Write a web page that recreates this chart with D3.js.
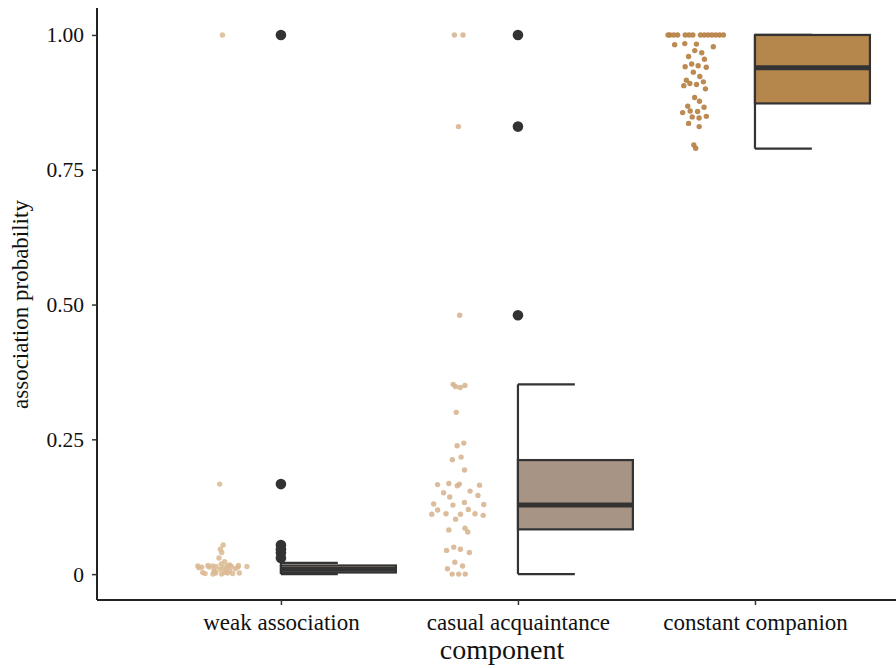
<!DOCTYPE html>
<html>
<head>
<meta charset="utf-8">
<script src="https://cdn.jsdelivr.net/npm/d3@7"></script>
<style>
  body { margin: 0; background: #fff; }
  svg { display: block; font-family: "Liberation Serif", "DejaVu Serif", serif; }
</style>
</head>
<body>
<div id="chart"></div>
<script>
// Data
const categories = ["weak association", "casual acquaintance", "constant companion"];

const weakValues = [1.0, 0.167, 0.054, 0.046, 0.040, 0.030,
  0.023, 0.019, 0.017,
  0.016, 0.016, 0.015, 0.015, 0.015, 0.014, 0.014, 0.014, 0.013, 0.013, 0.013, 0.012, 0.012,
  0.010, 0.009, 0.008, 0.007, 0.006,
  0.004, 0.003, 0.003, 0.002, 0.002, 0.002, 0.001, 0.001, 0.000, 0.000];

const casualValues = [1.0, 1.0, 0.83, 0.48, 0.352, 0.35, 0.348, 0.346, 0.30, 0.243, 0.238,
  0.217, 0.212, 0.193, 0.168, 0.167, 0.166, 0.165, 0.164, 0.154, 0.151, 0.146, 0.143,
  0.133, 0.13, 0.129, 0.128, 0.12, 0.119, 0.112, 0.112, 0.111, 0.111, 0.109, 0.102,
  0.085, 0.082, 0.078, 0.05, 0.046, 0.044, 0.040, 0.022, 0.015, 0.010, 0, 0, 0];

const constantValues = [1, 1, 1, 1, 1, 1, 1, 1, 1, 1, 1, 1, 1, 1,
  0.984, 0.983, 0.982, 0.978, 0.971, 0.967, 0.96, 0.955, 0.946, 0.943, 0.941, 0.94,
  0.931, 0.923, 0.916, 0.913, 0.91, 0.908, 0.906, 0.90, 0.884, 0.877, 0.868, 0.866,
  0.859, 0.858, 0.856, 0.849, 0.848, 0.846, 0.836, 0.83, 0.796, 0.79];

// Box statistics: [lower whisker, q1, median, q3, upper whisker]
const boxStats = [
  [0, 0.003, 0.009, 0.016, 0.021],
  [0, 0.083, 0.128, 0.2115, 0.352],
  [0.789, 0.873, 0.939, 1.0, 1.0]
];
const outliers = [
  [1.0, 0.167, 0.054, 0.046, 0.040, 0.030],
  [1.0, 0.83, 0.48],
  []
];

const yTicks = [0, 0.25, 0.5, 0.75, 1];
const yTickLabels = ["0", "0.25", "0.50", "0.75", "1.00"];

const dotColors = ["#dbb891", "#d5b28c", "#b8844a"];
const boxColors = ["#d8bb98", "#a89484", "#b5874d"];

const width = 896;
const height = 668;
const margin = { top: 8, right: 0, bottom: 68, left: 97 };
const innerWidth = width - margin.left - margin.right;
const innerHeight = height - margin.top - margin.bottom;

/*******************************/
/*    Append the containers    */
/*******************************/
const svg = d3.select("#chart")
  .append("svg")
    .attr("width", width)
    .attr("height", height)
    .attr("viewBox", `0, 0, ${width}, ${height}`);

const innerChart = svg
  .append("g")
    .attr("transform", `translate(${margin.left}, ${margin.top})`);

/****************************/
/*    Declare the scales    */
/****************************/
const xScale = d3.scaleLinear()
  .domain([0.224, 3.595])
  .range([0, innerWidth]);

const yScale = d3.scaleLinear()
  .domain([-0.048, 1.05])
  .range([innerHeight, 0]);

const unit = xScale(2) - xScale(1);

/***************************/
/*     Append the axes     */
/***************************/
const bottomAxis = innerChart
  .append("g")
    .attr("transform", `translate(0, ${innerHeight})`)
    .call(d3.axisBottom(xScale)
      .tickValues([1, 2, 3])
      .tickFormat((d, i) => categories[i])
      .tickSize(5)
      .tickPadding(9)
      .tickSizeOuter(0));

const leftAxis = innerChart
  .append("g")
    .call(d3.axisLeft(yScale)
      .tickValues(yTicks)
      .tickFormat((d, i) => yTickLabels[i])
      .tickSize(5)
      .tickPadding(8)
      .tickSizeOuter(0));

[bottomAxis, leftAxis].forEach(ax => {
  ax.select(".domain").attr("stroke", "#222").attr("stroke-width", 2);
  ax.selectAll(".tick line").attr("stroke", "#333").attr("stroke-width", 1.5);
  ax.selectAll(".tick text")
    .attr("fill", "#111")
    .style("font-family", "'Liberation Serif', serif");
});
bottomAxis.selectAll(".tick text")
  .attr("y", 30)
  .attr("dy", 0)
  .style("font-size", "23px");
leftAxis.selectAll(".tick text").style("font-size", "21.5px");

// extend axis lines to the panel edges
leftAxis.select(".domain").attr("d", `M0,0V${innerHeight}`);
bottomAxis.select(".domain").attr("d", `M0,0H${innerWidth}`);

// Axis titles
svg.append("text")
  .attr("x", 502)
  .attr("y", 659)
  .attr("text-anchor", "middle")
  .style("font-size", "28px")
  .attr("fill", "#111")
  .text("component");

svg.append("text")
  .attr("transform", `translate(28, ${yScale(0.5) + margin.top}) rotate(-90)`)
  .attr("text-anchor", "middle")
  .style("font-size", "23px")
  .attr("fill", "#111")
  .text("association probability");

/***********************************/
/*   Quasirandom dot positioning   */
/***********************************/
const vdc = (n) => {
  let q = 0, bk = 0.5;
  while (n > 0) { q += (n % 2) * bk; n = Math.floor(n / 2); bk /= 2; }
  return q;
};

const quasiOffsets = (values) => {
  const n = values.length;
  const sorted = values.slice().sort(d3.ascending);
  const sd = d3.deviation(values);
  const iqr = d3.quantileSorted(sorted, 0.75) - d3.quantileSorted(sorted, 0.25);
  let bw = 0.9 * Math.min(sd, iqr / 1.34) * Math.pow(n, -0.2) * 0.5;
  if (!(bw > 0)) bw = 0.01;
  const kde = (y) => d3.sum(values, v => Math.exp(-0.5 * ((y - v) / bw) ** 2));
  const lo = sorted[0] - 3 * bw, hi = sorted[n - 1] + 3 * bw;
  const maxD = d3.max(d3.range(512), i => kde(lo + (hi - lo) * i / 511));
  const order = d3.range(n).sort((a, b) => values[a] - values[b] || a - b);
  const rank = new Array(n);
  order.forEach((idx, r) => rank[idx] = r + 1);
  return values.map((v, i) => (vdc(rank[i]) - 0.5) * 2 * kde(v) / maxD);
};

const groups = [weakValues, casualValues, constantValues];
const dotShift = 0.25;
const dotWidth = 31 / unit;

/****************************/
/*        Draw dots         */
/****************************/
groups.forEach((values, g) => {
  const offsets = quasiOffsets(values);
  innerChart.append("g")
    .selectAll("circle")
    .data(values)
    .join("circle")
      .attr("cx", (d, i) => xScale(g + 1 - dotShift + offsets[i] * dotWidth))
      .attr("cy", d => yScale(d))
      .attr("r", 2.7)
      .attr("fill", dotColors[g])
      .attr("fill-opacity", g === 2 ? 0.95 : 0.85);
});

/****************************/
/*      Half boxplots       */
/****************************/
const boxW = 0.485;
const capW = 0.24;

boxStats.forEach((s, g) => {
  const x0 = xScale(g + 1);
  const x1 = xScale(g + 1 + boxW);
  const xc = xScale(g + 1 + capW);
  const box = innerChart.append("g")
    .attr("stroke", "#333")
    .attr("fill", "none");

  // whisker
  box.append("line")
    .attr("x1", x0).attr("x2", x0)
    .attr("y1", yScale(s[0])).attr("y2", yScale(s[4]))
    .attr("stroke-width", 2.2);
  // caps
  [s[0], s[4]].forEach(v => {
    box.append("line")
      .attr("x1", x0).attr("x2", xc)
      .attr("y1", yScale(v)).attr("y2", yScale(v))
      .attr("stroke-width", 2.2);
  });
  // box
  box.append("rect")
    .attr("x", x0)
    .attr("y", yScale(s[3]))
    .attr("width", x1 - x0)
    .attr("height", yScale(s[1]) - yScale(s[3]))
    .attr("fill", boxColors[g])
    .attr("stroke-width", 2.2);
  // median
  box.append("line")
    .attr("x1", x0).attr("x2", x1)
    .attr("y1", yScale(s[2])).attr("y2", yScale(s[2]))
    .attr("stroke-width", 5);

  // outliers
  innerChart.append("g")
    .selectAll("circle")
    .data(outliers[g])
    .join("circle")
      .attr("cx", x0)
      .attr("cy", d => yScale(d))
      .attr("r", 5.3)
      .attr("fill", "#333");
});
</script>
</body>
</html>
